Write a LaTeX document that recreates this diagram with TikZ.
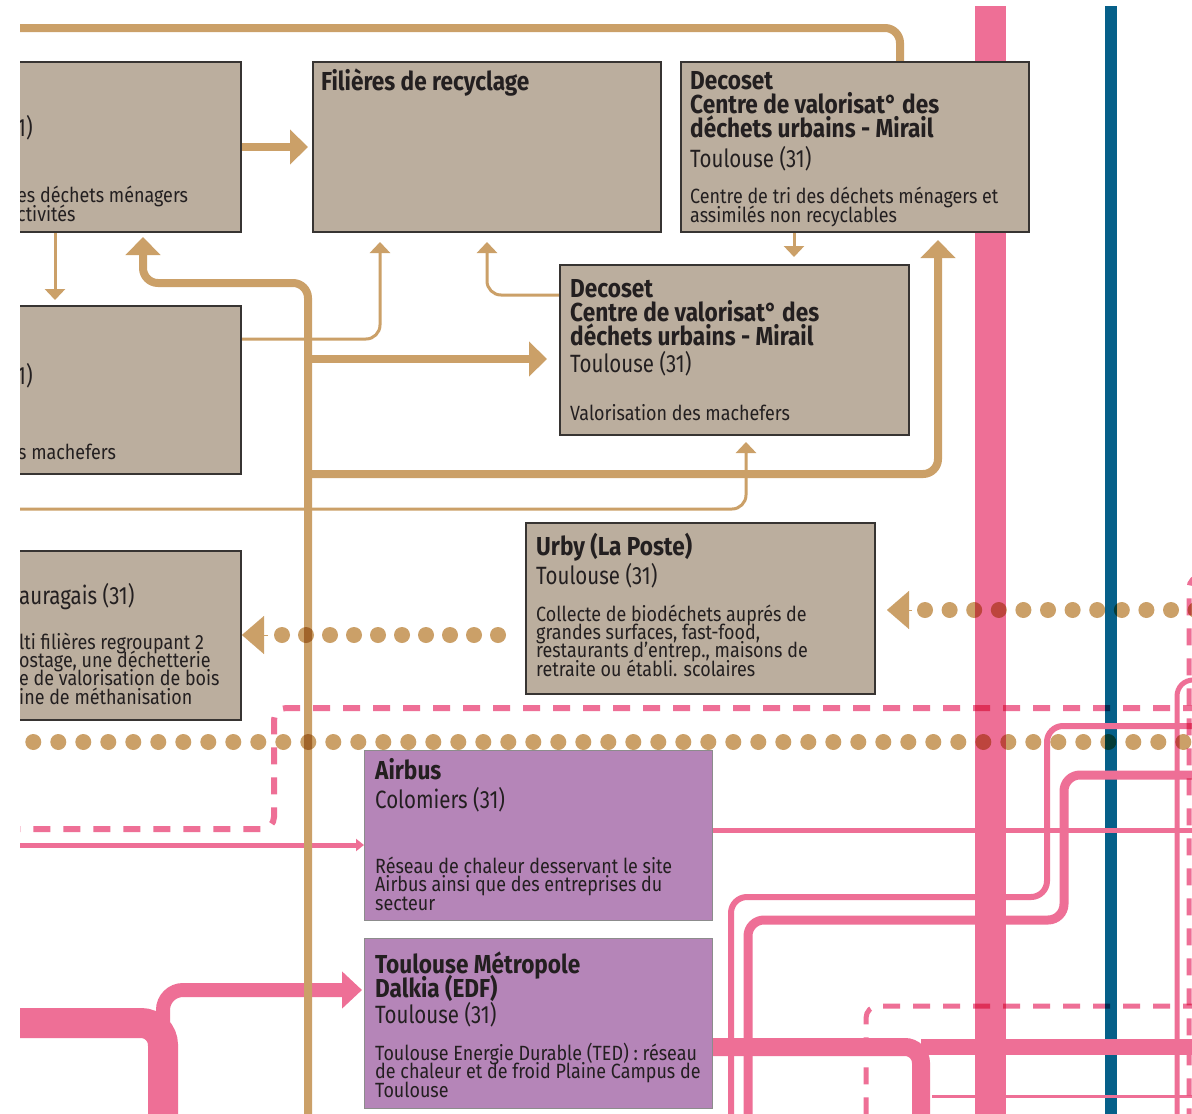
\documentclass[tikz,border=0pt]{standalone}
\usepackage{fontspec}
\setmainfont[FakeStretch=0.82]{Fira Sans}
\newfontfamily\headfamily[FakeStretch=0.87]{Fira Sans}
\newfontfamily\notefamily[FakeStretch=0.87]{Fira Sans}
\usetikzlibrary{arrows.meta}

\definecolor{taupe}{RGB}{187,174,158}
\definecolor{boxline}{RGB}{55,52,50}
\definecolor{mauve}{RGB}{181,133,184}
\definecolor{mauveline}{RGB}{140,140,140}
\definecolor{tan}{RGB}{203,160,104}
\definecolor{rose}{RGB}{238,111,150}
\definecolor{petrol}{RGB}{6,96,137}
\definecolor{ink}{RGB}{35,31,32}

\newcommand\boxtitle{\headfamily\fontsize{26}{24}\selectfont\bfseries\lineskiplimit=-100pt}
\newcommand\boxplace{\fontsize{25}{24}\selectfont\lineskiplimit=-100pt}
\newcommand\boxnote{\notefamily\fontsize{20.6}{18.3}\selectfont\lineskiplimit=-100pt}

\begin{document}
\begin{tikzpicture}[x=1pt, y=-1pt,
    box/.style={draw=boxline, line width=1.6pt, fill=taupe, anchor=north west, inner sep=0pt},
    hotbox/.style={box, draw=mauveline, line width=1.2pt, fill=mauve},
    lbl/.style={anchor=base west, inner sep=0pt, align=left, text=ink},
    title/.style={lbl, font=\boxtitle},
    place/.style={lbl, font=\boxplace},
    note/.style={lbl, font=\boxnote},
    brown/.style={draw=tan, line width=8pt, rounded corners=15pt},
    brownthin/.style={draw=tan, line width=3pt, rounded corners=14pt},
    bighead/.style={-{Triangle[width=34pt,length=18pt]}},
    smallhead/.style={-{Triangle[width=20pt,length=11pt]}},
    dots/.style={draw=tan, line width=16pt, line cap=round},
    roseline/.style={draw=rose, rounded corners=16pt},
    rosedash/.style={draw=rose, line width=6pt, dash pattern=on 17pt off 13pt, rounded corners=12pt},
  ]
\useasboundingbox[fill=white] (0,0) rectangle (1192,1114);
\begin{scope}
\clip (20,6) rectangle (1192,1114);

% --- barres verticales ---
\draw[rose, line width=31pt] (990,0) -- (990,1120);
\draw[petrol, line width=12pt] (1111,0) -- (1111,1120);

% --- réseaux de chaleur ---
\draw[roseline, line width=6pt] (1200,726) -- (1047,726) -- (1047,897) -- (731,897) -- (731,1120);
\draw[roseline, line width=9pt] (1200,775) -- (1064,775) -- (1064,920) -- (748,920) -- (748,1120);
\draw[roseline, line width=5pt] (1200,680) -- (1177,680) -- (1177,1120);
\draw[roseline, line width=3pt] (932,1096) -- (1200,1096);
\draw[roseline, line width=30pt, rounded corners=22pt] (10,1023) -- (163,1023) -- (163,1120);
\draw[roseline, line width=14pt, rounded corners=20pt, -{Triangle[width=36pt,length=20pt]}] (163,1023) -- (163,990) -- (362,990);
\draw[rose, line width=5pt, -{Triangle[width=12pt,length=8pt]}] (10,845) -- (364,845);

% --- flux de déchets ---
\draw[brown] (10,28) -- (900,28) -- (900,61);
\draw[brown, bighead] (240,147) -- (308,147);
\draw[brown, bighead] (308,1120) -- (308,283) -- (143,283) -- (143,237);
\draw[brown, bighead] (308,359) -- (547,359);
\draw[brown, bighead] (308,474) -- (938,474) -- (938,240);
\draw[brownthin, smallhead] (55,231) -- (55,300);
\draw[brownthin, smallhead] (240,339) -- (380,339) -- (380,242);
\draw[brownthin, smallhead] (559,295) -- (487,295) -- (487,242);
\draw[brownthin, smallhead] (794,231) -- (794,257);
\draw[brownthin, smallhead] (10,509) -- (746,509) -- (746,442);
\draw[tan, line width=0.1pt, -{Triangle[width=38pt,length=22pt]}] (268,635) -- (242,635);
\draw[tan, line width=0.1pt, -{Triangle[width=38pt,length=22pt]}] (912,610) -- (887,610);

\begin{scope}[blend mode=multiply]
% --- pointillés roses ---
\draw[rosedash] (1200,708) -- (274,708) -- (274,829) -- (10,829);
\draw[rosedash, line width=5pt] (1200,576) -- (1189,576) -- (1189,1120);
\draw[rosedash, line width=5pt] (1200,1006) -- (866,1006) -- (866,1120);

% --- collecte des biodéchets ---
\draw[dots, dash pattern=on 0pt off 24pt] (498,635) -- (281,635);
\draw[dots, dash pattern=on 0pt off 24.6pt] (925,610) -- (1200,610);
\draw[dots, dash pattern=on 0pt off 25pt] (33.3,742) -- (1200,742);
\end{scope}

% --- acteurs ---
\node[box, minimum width=250pt, minimum height=170pt] (tri) at (-10,61) {};
\node[place] (tri-lieu) at (17,136) {1)};
\node[note] (tri-note) at (17,221) {es déchets ménagers\\ctivités};

\node[box, minimum width=348pt, minimum height=170pt] (recyclage) at (312,61) {};
\node[title] (recyclage-nom) at (321,90) {Filières de recyclage};

\node[box, minimum width=348pt, minimum height=170pt] (decosetTri) at (680,61) {};
\node[title] (decosetTri-nom) at (690,137) {Decoset\\Centre de valorisat° des\\déchets urbains - Mirail};
\node[place] (decosetTri-lieu) at (690,167) {Toulouse (31)};
\node[note] (decosetTri-note) at (690,222) {Centre de tri des déchets ménagers et\\assimilés non recyclables};

\node[box, minimum width=250pt, minimum height=168pt] (machefer) at (-10,305) {};
\node[place] (machefer-lieu) at (17,384) {1)};
\node[note] (machefer-note) at (18,459) {s machefers};

\node[box, minimum width=349pt, minimum height=170pt] (decosetMach) at (559,264) {};
\node[title] (decosetMach-nom) at (570,345) {Decoset\\Centre de valorisat° des\\déchets urbains - Mirail};
\node[place] (decosetMach-lieu) at (570,372) {Toulouse (31)};
\node[note] (decosetMach-note) at (570,420) {Valorisation des machefers};

\node[box, minimum width=250pt, minimum height=169pt] (lauragais) at (-10,550) {};
\node[place] (lauragais-lieu) at (19,604) {auragais (31)};
\node[note] (lauragais-note) at (19,704) {lti filières regroupant 2\\ostage, une déchetterie\\e de valorisation de bois\\ine de méthanisation};

\node[box, minimum width=349pt, minimum height=171pt] (urby) at (525,522) {};
\node[title] (urby-nom) at (536,555) {Urby (La Poste)};
\node[place] (urby-lieu) at (536,584) {Toulouse (31)};
\node[note] (urby-note) at (536,676) {Collecte de biodéchets auprés de\\grandes surfaces, fast-food,\\restaurants d’entrep., maisons de\\retraite ou établi. scolaires};

\node[hotbox, minimum width=348pt, minimum height=170pt] (airbus) at (364,750) {};
\node[title] (airbus-nom) at (375,779) {Airbus};
\node[place] (airbus-lieu) at (375,808) {Colomiers (31)};
\node[note] (airbus-note) at (375,910) {Réseau de chaleur desservant le site\\Airbus ainsi que des entreprises du\\secteur};

\node[hotbox, minimum width=348pt, minimum height=170pt] (tlsMetro) at (364,938) {};
\node[title] (tlsMetro-nom) at (375,997) {Toulouse Métropole\\Dalkia (EDF)};
\node[place] (tlsMetro-lieu) at (375,1023) {Toulouse (31)};
\node[note] (tlsMetro-note) at (375,1097) {Toulouse Energie Durable (TED) : réseau\\de chaleur et de froid Plaine Campus de\\Toulouse};

% --- départs depuis Toulouse Métropole ---
\draw[roseline, line width=18pt] (tlsMetro.east |- 0,1047) -- (921,1047) -- (921,1120);
\draw[rose, line width=16pt] (921,1047) -- (1200,1047);
\draw[rose, line width=5pt] (airbus.east |- 0,830) -- (1200,830);
\end{scope}
\end{tikzpicture}
\end{document}
